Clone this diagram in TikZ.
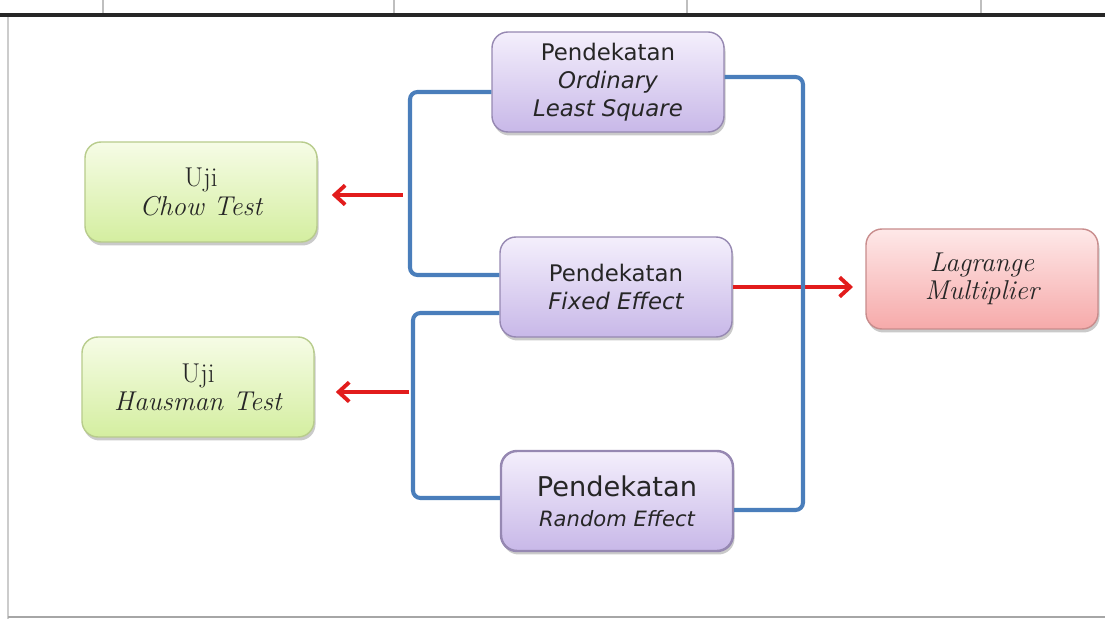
\documentclass[tikz,border=0pt]{standalone}
\usepackage{fontspec}
\usepackage{tikz}
\usetikzlibrary{shadows,calc,arrows.meta}

\newfontfamily\boxsans{DejaVu Sans}

\definecolor{linkblue}{RGB}{74,126,187}
\definecolor{arrowred}{RGB}{226,28,28}
\definecolor{lilactop}{RGB}{244,239,252}
\definecolor{lilacbot}{RGB}{200,184,232}
\definecolor{lilacedge}{RGB}{150,136,178}
\definecolor{limetop}{RGB}{246,252,230}
\definecolor{limebot}{RGB}{212,238,160}
\definecolor{limeedge}{RGB}{184,204,140}
\definecolor{rosetop}{RGB}{254,232,232}
\definecolor{rosebot}{RGB}{246,170,170}
\definecolor{roseedge}{RGB}{200,140,140}

\begin{document}
\begin{tikzpicture}[x=0.2mm,y=-0.2mm,>={Straight Barb[length=6pt,width=11pt]},
    box/.style={rounded corners=3.2mm,inner sep=0pt,minimum width=46.4mm,minimum height=20mm,
      align=center,text=black!85,line width=0.8pt,
      drop shadow={shadow xshift=0.3mm,shadow yshift=-0.7mm,opacity=0.35,fill=black!60}},
    approach/.style={box,draw=lilacedge,top color=lilactop,bottom color=lilacbot,
      font=\boxsans\fontsize{13}{16}\selectfont},
    testbox/.style={box,draw=limeedge,top color=limetop,bottom color=limebot,
      font=\fontsize{15.5}{16}\selectfont},
    lmbox/.style={box,draw=roseedge,top color=rosetop,bottom color=rosebot,
      font=\fontsize{15.5}{16}\selectfont\itshape},
    bracket/.style={draw=linkblue,line width=2.3pt,rounded corners=1.5mm},
    pick/.style={->,draw=arrowred,line width=2.2pt}]
    \useasboundingbox (0,0) rectangle (1105,619);

    % sheet edges
    \draw[black!85,line width=2.6pt] (0,15) -- (1105,15);
    \draw[black!25,line width=0.6pt] (103,0) -- (103,13);
    \draw[black!25,line width=0.6pt] (394,0) -- (394,13);
    \draw[black!25,line width=0.6pt] (687,0) -- (687,13);
    \draw[black!25,line width=0.6pt] (981,0) -- (981,13);
    \draw[black!20,line width=0.6pt] (8,17) -- (8,619);
    \draw[black!35,line width=0.8pt] (8,617) -- (1105,617);

    \node[approach] (ols) at (608,82) {Pendekatan\\ \itshape Ordinary\\ \itshape Least Square};
    \node[approach] (fe) at (616,287) {Pendekatan\\ \itshape Fixed Effect};
    \node[approach,font=\boxsans\fontsize{15.5}{17}\selectfont,line width=1.4pt] (re) at (617,501)
        {Pendekatan\\ {\fontsize{12}{14}\selectfont\itshape Random Effect}};

    \node[testbox] (chow) at (201,192) {Uji\\ \itshape Chow Test};
    \node[testbox] (haus) at (198,387) {Uji\\ \itshape Hausman Test};
    \node[lmbox] (lm) at (982,279) {Lagrange\\ Multiplier};

    \coordinate (s1) at (410,195);
    \coordinate (s2) at (413,392);
    \coordinate (s3) at (803,290);

    \draw[pick,shorten <=4pt,shorten >=8pt] (s1) -- (s1 -| chow.east);
    \draw[pick,shorten <=2pt,shorten >=12pt] (s2) -- (s2 -| haus.east);
    \draw[pick,shorten >=7pt] (fe.east) -- (fe.east -| lm.west);

    \draw[bracket] ($(ols.west)+(0,10)$) -| (s1) |- ($(fe.west)+(0,-12)$);
    \draw[bracket] ($(fe.west)+(0,26)$) -| (s2) |- ($(re.west)+(0,-3)$);
    \draw[bracket] ($(ols.east)+(0,-5)$) -| (s3) |- ($(re.east)+(0,9)$);
\end{tikzpicture}
\end{document}
